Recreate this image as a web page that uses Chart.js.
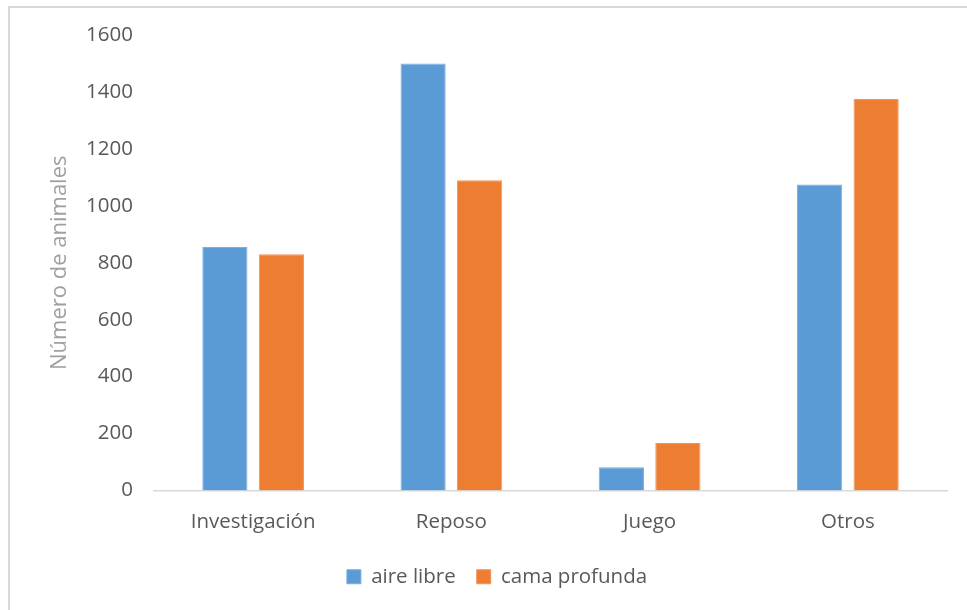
<!DOCTYPE html>
<html>
<head>
<meta charset="utf-8">
<script src="https://cdn.jsdelivr.net/npm/chart.js@4"></script>
<style>
  html, body { margin: 0; padding: 0; background: #fff; }
  #wrap { position: relative; width: 967px; height: 610px; overflow: hidden; }
  #frame { position: absolute; left: 8px; top: 6px; width: 980px; height: 620px;
           border-left: 2px solid #d9d9d9; border-top: 2px solid #d9d9d9; }
  canvas { position: absolute; left: 0; top: 0; }
</style>
</head>
<body>
<div id="wrap">
  <div id="frame"></div>
  <canvas id="c" width="967" height="610"></canvas>
</div>
<script>
// Categorías de comportamiento y número de animales por sistema de alojamiento
const categorias = ['Investigación', 'Reposo', 'Juego', 'Otros'];
const aireLibre = [855, 1500, 82, 1075];
const camaProfunda = [830, 1090, 167, 1375];
const ticksY = [0, 200, 400, 600, 800, 1000, 1200, 1400, 1600];

const FONT = "'Open Sans', sans-serif";
const TEXT = '#595959';

const PAD_LEFT = 47, PAD_RIGHT = 20, PAD_TOP = 35, PAD_BOTTOM = 13;
const AREA_LEFT = 154, AREA_BOTTOM = 490.5, H = 610;

new Chart(document.getElementById('c'), {
  type: 'bar',
  data: {
    labels: categorias,
    datasets: [
      { label: 'aire libre', data: aireLibre, backgroundColor: '#5b9bd5',
        borderColor: '#79aee0', borderWidth: 1,
        categoryPercentage: 0.57, barPercentage: 0.8 },
      { label: 'cama profunda', data: camaProfunda, backgroundColor: '#ed7d31',
        borderColor: '#f19559', borderWidth: 1,
        categoryPercentage: 0.57, barPercentage: 0.8 }
    ]
  },
  options: {
    responsive: false,
    animation: false,
    layout: { padding: { left: PAD_LEFT, right: PAD_RIGHT, top: PAD_TOP, bottom: PAD_BOTTOM } },
    plugins: {
      legend: {
        position: 'bottom',
        labels: { boxWidth: 14, boxHeight: 14, padding: 21, color: TEXT,
                  font: { family: FONT, size: 20.5 } }
      },
      tooltip: { enabled: false }
    },
    scales: {
      x: {
        grid: { display: false, drawTicks: false },
        border: { display: true, color: '#d9d9d9', width: 1.5 },
        ticks: { color: TEXT, padding: 19, font: { family: FONT, size: 20.5 } },
        afterFit(s) {
          const lh = s.chart.legend ? s.chart.legend.height : 0;
          s.height = H - PAD_BOTTOM - lh - AREA_BOTTOM;
        }
      },
      y: {
        min: 0, max: 1600,
        grid: { display: false, drawTicks: false },
        border: { display: false },
        afterBuildTicks(s) { s.ticks = ticksY.map(v => ({ value: v })); },
        ticks: { color: TEXT, padding: 21, font: { family: FONT, size: 20.5 },
                 callback: v => String(v) },
        title: { display: true, text: 'Número de animales', color: '#a0a0a0',
                 padding: { top: 0, bottom: 0 }, font: { family: FONT, size: 22 } },
        afterFit(s) { s.width = AREA_LEFT - PAD_LEFT; }
      }
    }
  }
});
</script>
</body>
</html>
